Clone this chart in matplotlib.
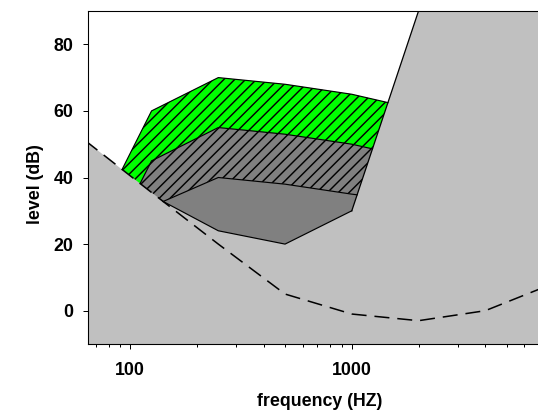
import numpy as np
import matplotlib
matplotlib.use("Agg")
import matplotlib.pyplot as plt
from matplotlib.patches import Polygon

# hearing threshold (dashed)
thr_freq = [63, 125, 250, 500, 1000, 2000, 4000, 8000]
thr_db = [51, 35.5, 20, 5, -1, -3, 0, 8]

# speech band contours
loud_freq = [92, 125, 250, 500, 1000, 1455]
loud_db = [42.4, 60, 70, 68, 65, 62.5]
mid_freq = [111, 125, 250, 500, 1000, 1240]
mid_db = [38.2, 45, 55, 53, 50, 48.6]
soft_top_freq = [141, 250, 500, 1000, 1057]
soft_top_db = [32.8, 40, 38, 35, 34.8]
soft_bot_freq = [141, 250, 500, 1000]
soft_bot_db = [32.8, 24, 20, 30]

# steep high-frequency boundary
edge_freq = [1000, 2000]
edge_db = [30, 90]

xticks = [100, 1000]
xtick_labels = ["100", "1000"]
yticks = [0, 20, 40, 60, 80]

XMIN, XMAX = 64.6, 8000
YMIN, YMAX = -10, 90

DPI = 130
plt.rcParams["font.family"] = ["Liberation Sans", "DejaVu Sans"]
plt.rcParams["font.weight"] = "bold"
plt.rcParams["axes.labelweight"] = "bold"
plt.rcParams["hatch.linewidth"] = 0.8
plt.rcParams["lines.scale_dashes"] = False


def band(top_f, top_v, bot_f, bot_v):
    xs = list(top_f) + list(bot_f)[::-1]
    ys = list(top_v) + list(bot_v)[::-1]
    return np.column_stack([xs, ys])


fig = plt.figure(figsize=(538 / DPI, 411 / DPI), dpi=DPI)
ax = fig.add_axes([88 / 538, 1 - 344 / 411, (552 - 88) / 538, (344 - 11) / 411])
ax.set_xscale("log")
ax.set_xlim(XMIN, XMAX)
ax.set_ylim(YMIN, YMAX)
ax.set_facecolor("#c0c0c0")

# white region above threshold / speech area
white_x = [thr_freq[0]] + loud_freq + [edge_freq[-1], thr_freq[0]]
white_y = [thr_db[0]] + loud_db + [edge_db[-1], YMAX + 5]
ax.add_patch(Polygon(np.column_stack([white_x, white_y]), closed=True,
                     facecolor="white", edgecolor="none", zorder=1))

# bands
ax.add_patch(Polygon(band(loud_freq, loud_db, mid_freq, mid_db), closed=True,
                     facecolor="#00ff00", edgecolor="black", linewidth=0,
                     hatch="////", zorder=2))
ax.add_patch(Polygon(band(mid_freq, mid_db, soft_top_freq, soft_top_db), closed=True,
                     facecolor="#808080", edgecolor="black", linewidth=0,
                     hatch="////", zorder=2))
ax.add_patch(Polygon(band(soft_top_freq, soft_top_db, soft_bot_freq, soft_bot_db),
                     closed=True, facecolor="#808080", edgecolor="none", zorder=2))

# outlines
for fx, fy in [(loud_freq, loud_db), (mid_freq, mid_db),
               (soft_top_freq, soft_top_db), (soft_bot_freq, soft_bot_db)]:
    ax.plot(fx, fy, color="black", linewidth=0.65, zorder=3)
ax.plot(edge_freq, edge_db, color="black", linewidth=0.7, zorder=4)

ax.plot(thr_freq, thr_db, color="black", linewidth=0.85,
        linestyle=(0, (8.3, 4.4)), zorder=4)

ax.set_xticks(xticks)
ax.set_xticklabels(xtick_labels)
ax.set_yticks(yticks)
ax.tick_params(axis="both", which="major", length=3, width=0.55, labelsize=9.8)
ax.tick_params(axis="x", which="major", pad=7)
ax.tick_params(axis="y", which="major", pad=5)
ax.tick_params(axis="x", which="minor", length=1.9, width=0.55)

for side in ["left", "bottom", "top", "right"]:
    ax.spines[side].set_linewidth(0.6)

ax.set_xlabel("frequency (HZ)", fontsize=9.8)
ax.set_ylabel("level (dB)", fontsize=9.8)
ax.xaxis.set_label_coords(0.5, -0.147)
ax.yaxis.set_label_coords(-0.095, 0.48)

fig.savefig("out.png", dpi=DPI)
